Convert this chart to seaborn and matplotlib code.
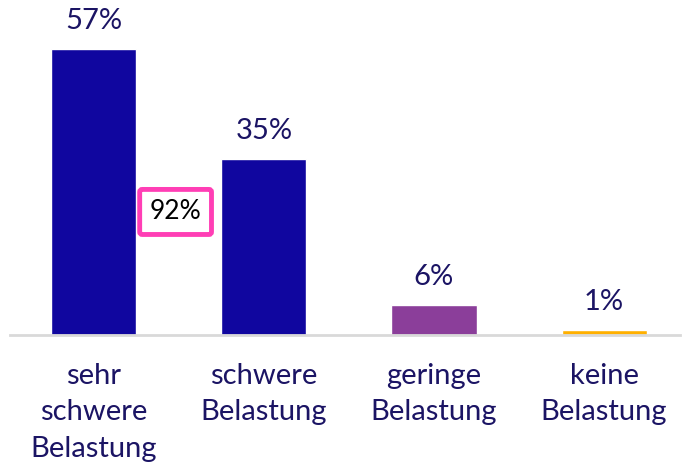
import matplotlib
matplotlib.use("Agg")
import matplotlib.pyplot as plt
import seaborn as sns
import pandas as pd

sns.set_style("white")
plt.rcParams["font.family"] = ["Lato", "DejaVu Sans"]

# Data
categories = ["sehr\nschwere\nBelastung", "schwere\nBelastung", "geringe\nBelastung", "keine\nBelastung"]
values = [57, 35, 6, 1]
bar_colors = ["#10069F", "#10069F", "#8B3E9A", "#FFB000"]
combined_label = "92%"

text_color = "#1B1464"

df = pd.DataFrame({"kategorie": categories, "anteil": values})

fig = plt.figure(figsize=(6.82, 4.76), dpi=100)
ax = fig.add_axes([10 / 682, 141 / 476, 670 / 682, 335 / 476])

sns.barplot(data=df, x="kategorie", y="anteil", hue="kategorie",
            palette=bar_colors, width=0.5, legend=False, ax=ax, saturation=1)

for i, v in enumerate(values):
    ax.text(i, v + 3, f"{v}%", ha="center", va="bottom",
            fontsize=21, color=text_color)

# combined share box between the first two bars
ax.text(0.48, 24.5, combined_label, ha="center", va="center", fontsize=19,
        color="black",
        bbox=dict(boxstyle="round,pad=0.38,rounding_size=0.1",
                  facecolor="white", edgecolor="#FF3EB5", linewidth=3.5))

ax.set_xlim(-0.494, 3.447)
ax.set_ylim(0, 66.7)
ax.set_xlabel("")
ax.set_ylabel("")
ax.set_yticks([])
ax.tick_params(axis="x", length=0, pad=20, labelsize=21, labelcolor=text_color)
for lbl in ax.get_xticklabels():
    lbl.set_linespacing(1.5)
    lbl.set_verticalalignment("top")

for side in ["top", "right", "left"]:
    ax.spines[side].set_visible(False)
ax.spines["bottom"].set_color("#D9D9D9")
ax.spines["bottom"].set_linewidth(2)

fig.savefig("out.png", dpi=100)
